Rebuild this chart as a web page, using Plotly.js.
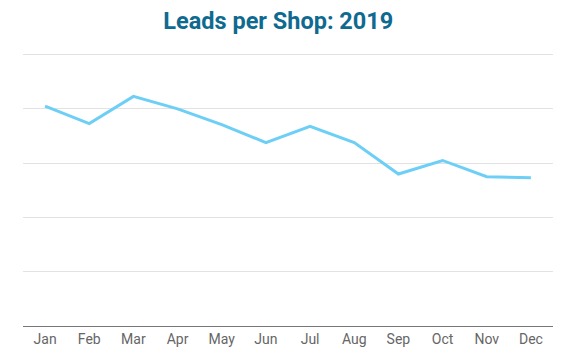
<!DOCTYPE html>
<html>
<head>
<meta charset="utf-8">
<script src="https://cdn.plot.ly/plotly-3.0.1.min.js"></script>
<style>html,body{margin:0;padding:0;background:#fff;}#chart{width:568px;height:361px;}</style>
</head>
<body>
<div id="chart"></div>
<script>
var months = ["Jan","Feb","Mar","Apr","May","Jun","Jul","Aug","Sep","Oct","Nov","Dec"];
var leads = [40.5, 37.3, 42.3, 40.0, 37.1, 33.8, 36.8, 33.8, 28.0, 30.5, 27.5, 27.3];
var chartTitle = "Leads per Shop: 2019";

var trace = {
  x: months,
  y: leads,
  type: "scatter",
  mode: "lines",
  line: {color: "#6dcff6", width: 3},
  hoverinfo: "x+y"
};

var layout = {
  width: 568,
  height: 361,
  margin: {l: 23, r: 15, t: 53, b: 35},
  paper_bgcolor: "#ffffff",
  plot_bgcolor: "#ffffff",
  showlegend: false,
  title: {
    text: "<b>" + chartTitle + "</b>",
    font: {family: "Roboto, sans-serif", size: 23.5, color: "#0f6a90"},
    x: 0.49, xanchor: "center",
    y: 1 - 21/361, yanchor: "middle", yref: "container"
  },
  xaxis: {
    type: "category",
    range: [-0.5, 11.5],
    showgrid: false,
    zeroline: false,
    showline: true,
    linecolor: "#777777",
    linewidth: 1,
    ticks: "",
    tickfont: {family: "Roboto, sans-serif", size: 14, color: "#666666"},
    fixedrange: true
  },
  yaxis: {
    range: [0, 50.3],
    dtick: 10,
    showticklabels: false,
    showgrid: true,
    gridcolor: "#e2e2e2",
    gridwidth: 1,
    zeroline: false,
    showline: false,
    fixedrange: true
  }
};

Plotly.newPlot("chart", [trace], layout, {displayModeBar: false, staticPlot: true});
</script>
</body>
</html>
